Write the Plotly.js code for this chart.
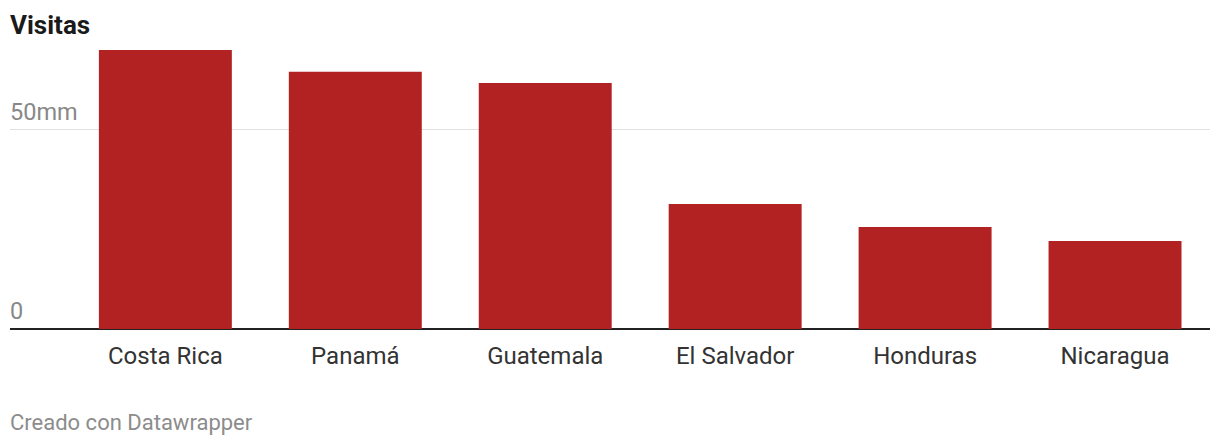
<!DOCTYPE html>
<html>
<head>
<meta charset="utf-8">
<script src="https://cdn.plot.ly/plotly-3.0.1.min.js"></script>
<style>
  html, body { margin: 0; padding: 0; background: #fff; }
  #chart { width: 1220px; height: 446px; }
</style>
</head>
<body>
<div id="chart"></div>
<script>
const countries = ["Costa Rica", "Panamá", "Guatemala", "El Salvador", "Honduras", "Nicaragua"];
const visitas = [70.1, 64.6, 61.8, 31.4, 25.6, 22.1];
const yTickVals = [0, 50];
const yTickText = ["0", "50mm"];

const trace = {
  type: "bar",
  x: countries,
  y: visitas,
  marker: { color: "#b22222" },
  hoverinfo: "x+y"
};

const yLabelAnnotations = yTickVals.map((v, i) => ({
  text: yTickText[i],
  xref: "paper", yref: "y",
  x: 0, y: v,
  xanchor: "left", yanchor: "bottom",
  xshift: -2, yshift: 2,
  showarrow: false,
  font: { family: "Roboto, sans-serif", size: 23.5, color: "#888888" }
}));

const layout = {
  width: 1220,
  height: 446,
  margin: { l: 10, r: 10, t: 40, b: 117 },
  paper_bgcolor: "#ffffff",
  plot_bgcolor: "#ffffff",
  font: { family: "Roboto, sans-serif", color: "#333333" },
  bargap: 0.3,
  showlegend: false,
  title: {
    text: "<b>Visitas</b>",
    x: 0, xref: "paper", xanchor: "left",
    y: 1, yref: "container", yanchor: "top",
    pad: { t: 16 },
    font: { family: "Roboto, sans-serif", size: 26, color: "#1a1a1a" }
  },
  xaxis: {
    type: "category",
    range: [-0.818, 5.5],
    showgrid: false,
    showline: false,
    zeroline: false,
    ticks: "outside",
    ticklen: 5,
    tickcolor: "rgba(0,0,0,0)",
    tickfont: { family: "Roboto, sans-serif", size: 24, color: "#333333" },
    fixedrange: true
  },
  yaxis: {
    range: [0, 72.6],
    tickvals: yTickVals,
    ticktext: yTickText,
    showticklabels: false,
    showgrid: true,
    gridcolor: "#e0e0e0",
    gridwidth: 1,
    zeroline: true,
    zerolinecolor: "#222222",
    zerolinewidth: 2,
    showline: false,
    ticks: "",
    fixedrange: true
  },
  annotations: yLabelAnnotations.concat([
    {
      text: "Creado con Datawrapper",
      xref: "paper", yref: "paper",
      x: 0, y: 0,
      xanchor: "left", yanchor: "middle",
      xshift: -2,
      yshift: -(422 - 329),
      showarrow: false,
      font: { family: "Roboto, sans-serif", size: 22, color: "#8c8c8c" }
    }
  ])
};

Plotly.newPlot("chart", [trace], layout, { displayModeBar: false, staticPlot: true });
</script>
</body>
</html>
